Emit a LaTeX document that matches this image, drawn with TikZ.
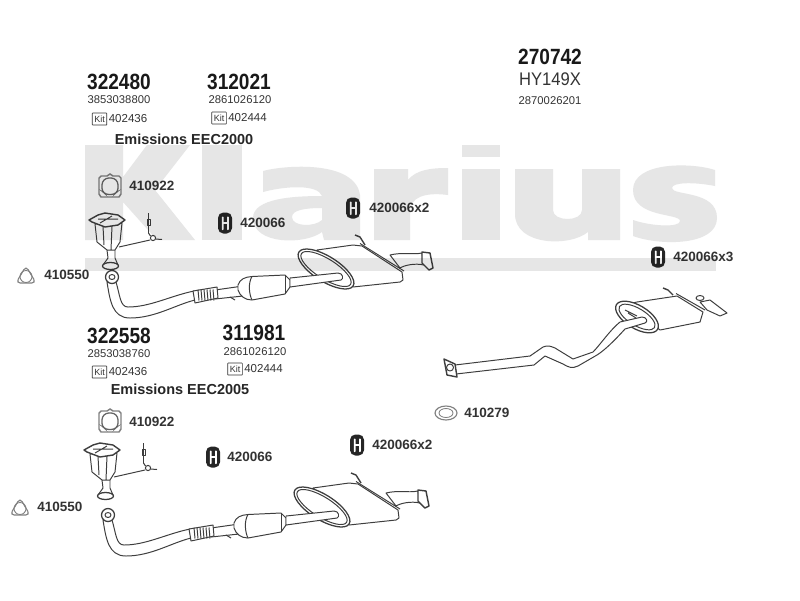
\documentclass[tikz,border=0pt]{standalone}
\usepackage{fontspec}
\usetikzlibrary{positioning}
\setmainfont{Liberation Sans}
\definecolor{wmark}{HTML}{E6E6E6}
\definecolor{part}{HTML}{3E3E3E}
\definecolor{txtgray}{HTML}{333333}
\tikzset{
    partno/.style={font=\bfseries\fontsize{14pt}{15pt}\selectfont,text=black!90,inner sep=0pt,xscale=0.97,yscale=1.12},
    altno/.style={font=\fontsize{8pt}{9pt}\selectfont,text=txtgray,inner sep=0pt},
    kitno/.style={font=\fontsize{8.2pt}{9pt}\selectfont,text=txtgray,inner sep=0pt,anchor=west},
    kitbox/.style={draw=txtgray,line width=0.45pt,font=\fontsize{6.4pt}{6pt}\selectfont,text=txtgray,inner sep=0pt,rounded corners=0.4pt,minimum width=10.4pt,minimum height=8.6pt},
    itemno/.style={font=\bfseries\fontsize{9.6pt}{10pt}\selectfont,text=txtgray,inner sep=0pt,anchor=west},
    emis/.style={font=\bfseries\fontsize{10.3pt}{11pt}\selectfont,text=black!85,inner sep=0pt},
    ln/.style={draw=part,line width=0.7pt,line join=round},
    pipe/.style={ln,fill=white},
    gasket/.style={draw=gray,line width=0.8pt,fill=white}
}
% rubber hanger
\newcommand{\hanger}[1]{
    \begin{scope}[shift={(#1)}]
        \fill[black!85,rounded corners=3.8pt] (-7,-10.5) rectangle (7,10.5);
        \fill[white,rounded corners=0.5pt] (-3.2,-6.5) rectangle (-1.4,7);
        \fill[white,rounded corners=0.5pt] (2,-6.5) rectangle (3.8,7);
        \fill[white] (-2,-0.8) rectangle (2.4,1);
    \end{scope}
}
\newcommand{\kitmark}[3]{
    \node[kitbox] (#1) at (#2) {Kit};
    \node[kitno,right=1pt of #1] (#1no) {#3};
}
\newcommand{\squaregasket}[1]{
    \begin{scope}[shift={(#1)}]
        \draw[gasket,fill=white,line width=1pt] (-9,-10) -- (-3,-10) -- (0,-12) -- (3,-10) -- (9,-10) -- (11,-8) -- (11,8) -- (9,11) -- (-9,11) -- (-11,8) -- (-11,-8) -- cycle;
        \draw[draw=part!80,line width=0.9pt,rounded corners=2pt] (-4,-8) -- (4,-8) -- (8,-4) -- (8,5) -- (4,8.5) -- (-4,8.5) -- (-8,5) -- (-8,-4) -- cycle;
    \end{scope}
}
\newcommand{\trigasket}[1]{
    \begin{scope}[shift={(#1)}]
        \draw[gasket,rounded corners=3pt] (0,-9) -- (10,8) -- (-10,8) -- cycle;
        \draw[draw=gray,line width=0.6pt] (0,1.5) circle (6);
    \end{scope}
}
% catalyst manifold and its sensor
\newcommand{\manifold}{
    \draw[pipe] (95,224) -- (97,242) -- (107,250) -- (108,258) -- (103,265) -- (118,265) -- (115,258) -- (115,250) -- (120,242) -- (122,223) -- cycle;
    \draw[ln] (103,226) -- (104,245) (107,250) -- (115,250) (112,226) -- (111,250);
    \draw[pipe,line width=1pt] (89,220) -- (98,215) -- (105,213) -- (118,215) -- (125,220) -- (118,225) -- (105,227) -- (92,222) -- cycle;
    \draw[ln] (98,219) -- (118,219) (100,223) -- (112,216);
    \draw[pipe,line width=0.9pt] (110.5,266) ellipse (8 and 3.5);
    \draw[ln] (119,247) -- (150,240);
    \draw[ln,line width=1.1pt] (148.5,213) -- (148.5,233);
    \draw[ln] (147,219) rectangle (150.5,225);
    \draw[ln] (148.5,233) -- (150.5,236);
    \draw[ln] (153,238) circle (2.6);
    \draw[ln] (155.5,239) -- (162,239.5);
}
% down pipe, flex, cat and middle silencer
\newcommand{\midline}{
    \draw[pipe] (107,282) .. controls (110,300) and (112,318) .. (130,318) .. controls (155,318) and (175,305) .. (195,300) -- (194,291) .. controls (170,296) and (150,307) .. (128,307) .. controls (120,307) and (120,295) .. (116,282) -- cycle;
    \draw[pipe,line width=0.9pt] (112,277) ellipse (6.5 and 6.5);
    \draw[ln] (112,277) ellipse (3 and 2.5);
    \draw[pipe] (215,290) -- (243,286) -- (243,296) -- (215,299) -- cycle;
    \draw[pipe] (193,291) -- (217,287) -- (218,298) -- (195,303) -- cycle;
    \foreach \cut in {198,201,204,207,210,213}{
        \draw[ln] (\cut,289.5) -- (\cut+1,300.5);
    }
    \draw[ln] (230,297) -- (235,300);
    \draw[pipe] (238,285) .. controls (240,279) and (245,277) .. (252,276.5) -- (285,275) -- (290,280) -- (290,287) -- (285,294) -- (252,300) .. controls (245,300) and (240,296) .. (238,290) -- cycle;
    \draw[ln] (252,276.5) .. controls (248,283) and (249,294) .. (252,300);
    \draw[ln] (285,275) -- (285,294);
    \draw[pipe] (390,255) .. controls (402,252) and (412,255) .. (422,253) -- (424,265) .. controls (415,263) and (405,265) .. (400,268) -- cycle;
    \draw[pipe,line width=1pt] (422,252) -- (430,253) -- (433,268) -- (429,270) -- (422,263) -- cycle;
    \draw[ln,line width=1pt] (355,235) -- (360,237) -- (365,245);
    \draw[pipe] (317,250) -- (353,245) -- (362,246) -- (402,272) -- (403,280) -- (400,282) -- (353,287) -- cycle;
    \draw[ln] (360,243.5) -- (404,271);
    \draw[pipe,line width=0.9pt,rotate around={-32:(326,269)}] (326,269) ellipse (32 and 12.5);
    \draw[ln,rotate around={-32:(326,269)}] (326,269) ellipse (29 and 10);
    \draw[pipe] (290,278) -- (338,273) .. controls (343,273) and (344,279) .. (341,280) -- (290,287) -- cycle;
}
\begin{document}
\begin{tikzpicture}[x=0.025cm,y=-0.025cm]
    \useasboundingbox (0,0) rectangle (800,600);
    \fill[white] (0,0) rectangle (800,600);

    % upper numbers
    \node[partno] (pn322480) at (119,82) {322480};
    \node[partno] (pn312021) at (239,82) {312021};
    \node[altno] (alt322480) at (119,100) {3853038800};
    \node[altno] (alt312021) at (240,100) {2861026120};
    \kitmark{kita}{99.5,119}{402436}
    \kitmark{kitb}{219,118}{402444}
    \node[emis] (emisa) at (184,139) {Emissions EEC2000};

    \node[partno] (pn270742) at (550,57) {270742};
    \node[font=\fontsize{11.8pt}{14pt}\selectfont,text=txtgray,inner sep=0pt,yscale=1.1] (hy) at (550,79) {HY149X};
    \node[altno] (alt270742) at (550,101) {2870026201};

    % upper line
    \squaregasket{110,186}
    \node[itemno] (gska) at (129,186) {410922};
    \trigasket{26,275}
    \node[itemno] (tria) at (44,275) {410550};
    \manifold
    \midline
    \hanger{225,223}
    \node[itemno] (hga) at (240,223) {420066};
    \hanger{353,208}
    \node[itemno] (hgb) at (369,208) {420066x2};
    \hanger{658,257}
    \node[itemno] (hgc) at (673,257) {420066x3};

    % lower numbers
    \node[partno] (pn322558) at (119,336) {322558};
    \node[partno] (pn311981) at (254,333) {311981};
    \node[altno] (alt322558) at (119,354) {2853038760};
    \node[altno] (alt311981) at (255,352) {2861026120};
    \kitmark{kitc}{99.5,372}{402436}
    \kitmark{kitd}{235,369}{402444}
    \node[emis] (emisb) at (180,389) {Emissions EEC2005};

    % lower line
    \squaregasket{110,421}
    \node[itemno] (gskb) at (129,422) {410922};
    \trigasket{20,507}
    \node[itemno] (trib) at (37,507) {410550};
    \begin{scope}[shift={(-5,230)}]
        \manifold
    \end{scope}
    \begin{scope}[shift={(-4,238)}]
        \midline
    \end{scope}
    \hanger{213,457}
    \node[itemno] (hgd) at (227,457) {420066};
    \hanger{357,445}
    \node[itemno] (hge) at (372,445) {420066x2};

    % rear line
    \draw[ln,line width=1pt] (663,288) -- (668,290) -- (673,295);
    \draw[pipe] (700,302) -- (710,300) -- (727,313) -- (720,316) -- (707,310) -- cycle;
    \draw[ln] (700,298) ellipse (4 and 2.5);
    \draw[pipe] (628,304) -- (637,302) -- (677,296) -- (703,312) -- (700,322) -- (660,330) -- cycle;
    \draw[ln] (676,293.5) -- (705,310);
    \draw[pipe,line width=0.9pt,rotate around={-31:(637,317)}] (637,317) ellipse (24 and 11.5);
    \draw[ln,rotate around={-31:(637,317)}] (637,317) ellipse (20.5 and 8.5);
    \draw[ln] (625,310) -- (637,316) (628,313) -- (636,318);
    \draw[pipe] (455,365) -- (530,356) -- (543,347) .. controls (548,345) and (550,346) .. (555,348) -- (573,359) -- (593,352) .. controls (600,345) and (610,330) .. (620,322) -- (642,317) .. controls (647,317) and (648,322) .. (645,323) -- (625,329) .. controls (615,340) and (605,350) .. (597,355) -- (578,366) .. controls (572,369) and (568,367) .. (563,364) -- (545,356) -- (534,365) -- (456,374) -- cycle;
    \draw[pipe,line width=1pt] (444,359) -- (455,364) -- (457,377) -- (447,375) -- cycle;
    \draw[ln] (450,367.5) circle (3.5);

    \draw[gasket] (446,413) ellipse (11 and 7);
    \draw[draw=gray,line width=0.6pt] (446,413) ellipse (7 and 4.5);
    \node[itemno] (ovl) at (464,413) {410279};

    % watermark letters, printed through the parts
    \begin{scope}[blend mode=multiply]
    \fill[wmark] (85,145) -- (123,145) -- (123,177) -- (147,145) -- (190,145) -- (155,190) -- (195,240) -- (157,240) -- (123,202) -- (123,240) -- (85,240) -- cycle;
    \fill[wmark] (202,145) rectangle (242,240);
    \fill[wmark,even odd rule] (263,171) .. controls (285,165) and (355,160) .. (360,195) -- (360,240) -- (324,240) -- (322,232) .. controls (305,245) and (253,245) .. (253,218) .. controls (253,198) and (295,196) .. (322,196) .. controls (318,184) and (285,186) .. (263,192) -- cycle (322,208) .. controls (305,208) and (292,210) .. (292,217) .. controls (292,227) and (315,227) .. (322,220) -- cycle;
    \fill[wmark] (374,169) -- (408,169) -- (408,180) .. controls (416,170) and (430,168) .. (448,168) -- (448,195) .. controls (425,192) and (410,197) .. (410,212) -- (410,240) -- (374,240) -- cycle;
    \fill[wmark] (462,145) rectangle (500,157);
    \fill[wmark] (462,169) rectangle (500,240);
    \fill[wmark] (515,169) -- (553,169) -- (553,210) .. controls (553,222) and (582,222) .. (582,210) -- (582,169) -- (620,169) -- (620,240) -- (588,240) -- (588,232) .. controls (570,247) and (515,246) .. (515,214) -- cycle;
    \fill[wmark] (715,170) -- (715,186) .. controls (695,182) and (672,182) .. (672,188) .. controls (672,196) and (717,190) .. (717,218) .. controls (717,246) and (660,246) .. (633,236) -- (633,220) .. controls (650,226) and (680,228) .. (680,221) .. controls (680,213) and (633,218) .. (633,190) .. controls (633,162) and (690,162) .. (715,170) -- cycle;
    \fill[wmark] (85,258) rectangle (716,271);
    \end{scope}
\end{tikzpicture}
\end{document}
